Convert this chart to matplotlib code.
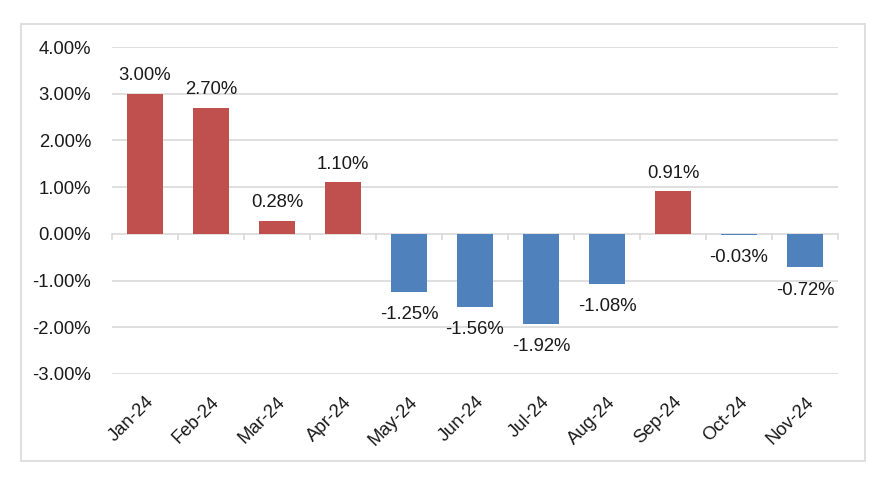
import matplotlib.pyplot as plt
import matplotlib.patches as mpatches
import numpy as np

months = ["Jan-24", "Feb-24", "Mar-24", "Apr-24", "May-24", "Jun-24",
          "Jul-24", "Aug-24", "Sep-24", "Oct-24", "Nov-24"]
values = [3.00, 2.70, 0.28, 1.10, -1.25, -1.56, -1.92, -1.08, 0.91, -0.03, -0.72]

plt.rcParams['font.family'] = ['Liberation Sans', 'DejaVu Sans']

fig = plt.figure(figsize=(8.7, 4.84), dpi=100)
ax = fig.add_axes([112/870, 1-374/484, (838-112)/870, (374-47)/484])

# light frame around the whole chart
fig.patches.append(mpatches.Rectangle((21/870, 1-461/484), (865-21)/870, (461-24)/484,
                                      transform=fig.transFigure, fill=False,
                                      edgecolor='#d9d9d9', linewidth=1.2))

x = np.arange(len(months))
colors = ['#c0504d' if v >= 0 else '#4f81bd' for v in values]
ax.bar(x, values, width=0.56, color=colors, zorder=3)

fs = 13.3
for xi, v in zip(x, values):
    if v >= 0:
        ax.text(xi, v + 0.2, f"{v:.2f}%", ha='center', va='bottom', fontsize=fs, color='#1a1a1a')
    else:
        ax.text(xi, v - 0.3, f"{v:.2f}%", ha='center', va='top', fontsize=fs, color='#1a1a1a')

ax.set_xlim(-0.5, len(months) - 0.5)
ax.set_ylim(-3, 4)
yt = np.arange(-3, 5)
ax.set_yticks(yt)
ax.set_yticklabels([f"{t:.2f}%" for t in yt], fontsize=fs, color='#1a1a1a')
ax.yaxis.grid(True, color='#d9d9d9', linewidth=1.2, zorder=0)
ax.tick_params(axis='y', length=0, pad=15)

ax.set_xticks(x)
ax.set_xticklabels(months, rotation=45, ha='right', rotation_mode='anchor',
                   fontsize=fs, color='#1a1a1a')
ax.tick_params(axis='x', length=0, pad=14)

# zero line tick marks at category boundaries
for b in np.arange(-0.5, len(months), 1.0):
    ax.plot([b, b], [0, -0.1], color='#d9d9d9', linewidth=1.2, zorder=2, clip_on=False)

for s in ax.spines.values():
    s.set_visible(False)

fig.savefig("out.png", dpi=100)
